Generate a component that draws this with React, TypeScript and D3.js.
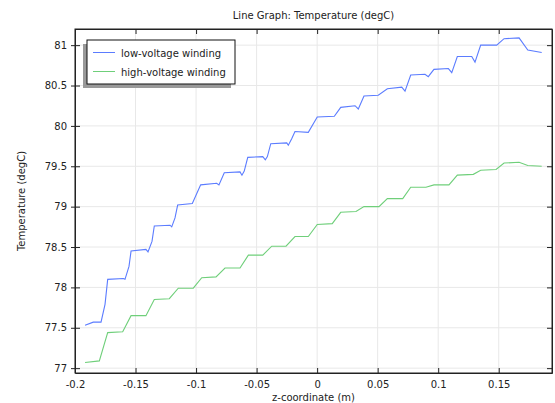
import { useEffect, useRef } from 'react'
import * as d3 from 'd3'

// low-voltage winding (z in m, T in degC)
const lowZ = [-0.1917, -0.1849, -0.1785, -0.1752, -0.173, -0.1601, -0.1587, -0.1554, -0.1537, -0.1414, -0.1397, -0.1364, -0.1345, -0.1215, -0.1201, -0.1174, -0.1152, -0.1031, -0.0962, -0.083, -0.0811, -0.0767, -0.0637, -0.0621, -0.0602, -0.0573, -0.0449, -0.0428, -0.0411, -0.0383, -0.0251, -0.0238, -0.021, -0.0183, -0.0073, 0.0001, 0.0142, 0.0195, 0.0313, 0.034, 0.0387, 0.0505, 0.058, 0.0699, 0.0726, 0.0773, 0.0891, 0.0918, 0.0965, 0.1084, 0.1112, 0.1158, 0.1277, 0.1304, 0.1351, 0.1483, 0.1544, 0.1668, 0.174, 0.1855]
const lowT = [77.53, 77.57, 77.57, 77.79, 78.1, 78.11, 78.1, 78.26, 78.45, 78.47, 78.44, 78.57, 78.76, 78.77, 78.75, 78.86, 79.02, 79.04, 79.27, 79.29, 79.27, 79.42, 79.43, 79.39, 79.44, 79.61, 79.62, 79.58, 79.62, 79.78, 79.79, 79.76, 79.84, 79.93, 79.92, 80.11, 80.12, 80.23, 80.25, 80.21, 80.37, 80.38, 80.46, 80.48, 80.43, 80.63, 80.64, 80.61, 80.7, 80.71, 80.66, 80.86, 80.86, 80.79, 81.0, 81.0, 81.08, 81.09, 80.94, 80.91]

// high-voltage winding
const highZ = [-0.1917, -0.1799, -0.173, -0.1606, -0.1537, -0.1414, -0.1345, -0.1221, -0.1147, -0.1023, -0.0953, -0.0835, -0.0761, -0.0637, -0.0568, -0.0449, -0.0375, -0.0257, -0.0183, -0.0073, 0.0001, 0.0125, 0.0195, 0.0321, 0.0387, 0.0511, 0.058, 0.0707, 0.0773, 0.0899, 0.0965, 0.1089, 0.1158, 0.129, 0.1351, 0.1478, 0.1544, 0.1668, 0.174, 0.1855]
const highT = [77.07, 77.09, 77.44, 77.45, 77.65, 77.65, 77.85, 77.86, 77.99, 77.99, 78.12, 78.13, 78.24, 78.24, 78.4, 78.4, 78.51, 78.51, 78.63, 78.63, 78.78, 78.79, 78.93, 78.94, 79.0, 79.0, 79.1, 79.1, 79.24, 79.24, 79.27, 79.27, 79.39, 79.4, 79.45, 79.46, 79.54, 79.55, 79.51, 79.5]

const xTicks = [-0.2, -0.15, -0.1, -0.05, 0, 0.05, 0.1, 0.15]
const yTicks = [77, 77.5, 78, 78.5, 79, 79.5, 80, 80.5, 81]

const series = [
  { name: 'low-voltage winding', z: lowZ, t: lowT, color: '#5b7cff' },
  { name: 'high-voltage winding', z: highZ, t: highT, color: '#6fcf7a' },
]

export default function App() {
  const svgRef = useRef<SVGSVGElement | null>(null)

  useEffect(() => {
    if (!svgRef.current) return
    const svg = d3.select(svgRef.current)
    svg.selectAll('*').remove()

    const width = 555
    const height = 403
    const m = { left: 75, right: 3, top: 29, bottom: 30 }
    const font = 'DejaVu Sans, sans-serif'

    const x = d3.scaleLinear().domain([-0.2, 0.194]).range([m.left, width - m.right])
    const y = d3.scaleLinear().domain([76.94, 81.2]).range([height - m.bottom, m.top])

    const g = svg.append('g')

    // grid
    g.selectAll('.gx').data(xTicks).enter().append('line')
      .attr('x1', d => x(d)).attr('x2', d => x(d))
      .attr('y1', m.top).attr('y2', height - m.bottom)
      .attr('stroke', '#e8e8e8').attr('stroke-width', 1)
    g.selectAll('.gy').data(yTicks).enter().append('line')
      .attr('y1', d => y(d)).attr('y2', d => y(d))
      .attr('x1', m.left).attr('x2', width - m.right)
      .attr('stroke', '#e8e8e8').attr('stroke-width', 1)

    // lines
    const line = d3.line<[number, number]>().x(d => x(d[0])).y(d => y(d[1]))
    series.forEach(s => {
      g.append('path')
        .datum(s.z.map((z, i) => [z, s.t[i]] as [number, number]))
        .attr('d', line)
        .attr('fill', 'none')
        .attr('stroke', s.color)
        .attr('stroke-width', 1.1)
    })

    // axes with inward ticks
    const tk = 5
    const axB = g.append('g').attr('transform', `translate(0,${height - m.bottom})`)
      .call(d3.axisBottom(x).tickValues(xTicks).tickSizeInner(-tk).tickSizeOuter(0).tickPadding(8).tickFormat(d => String(d)))
    const axT = g.append('g').attr('transform', `translate(0,${m.top})`)
      .call(d3.axisTop(x).tickValues(xTicks).tickSizeInner(-tk).tickSizeOuter(0).tickFormat(() => ''))
    const axL = g.append('g').attr('transform', `translate(${m.left},0)`)
      .call(d3.axisLeft(y).tickValues(yTicks).tickSizeInner(-tk).tickSizeOuter(0).tickPadding(8).tickFormat(d => String(d)))
    const axR = g.append('g').attr('transform', `translate(${width - m.right},0)`)
      .call(d3.axisRight(y).tickValues(yTicks).tickSizeInner(-tk).tickSizeOuter(0).tickFormat(() => ''))
    ;[axB, axT, axL, axR].forEach(a => {
      a.select('.domain').attr('stroke', '#222')
      a.selectAll('line').attr('stroke', '#222')
      a.selectAll('text').attr('fill', '#222').style('font-family', font).style('font-size', '10px')
    })
    // left tick marks also poke outside in the reference
    axL.selectAll('.tick').append('line').attr('x1', 0).attr('x2', -4).attr('stroke', '#222')

    // frame
    g.append('rect')
      .attr('x', m.left).attr('y', m.top)
      .attr('width', width - m.right - m.left).attr('height', height - m.bottom - m.top)
      .attr('fill', 'none').attr('stroke', '#222').attr('stroke-width', 1)

    // titles
    svg.append('text').attr('x', (m.left + width - m.right) / 2).attr('y', 19)
      .attr('text-anchor', 'middle').style('font-family', font).style('font-size', '10px')
      .attr('fill', '#222').text('Line Graph: Temperature (degC)')
    svg.append('text').attr('x', (m.left + width - m.right) / 2).attr('y', 401)
      .attr('text-anchor', 'middle').style('font-family', font).style('font-size', '10px')
      .attr('fill', '#222').text('z-coordinate (m)')
    svg.append('text').attr('transform', `translate(25,${(m.top + height - m.bottom) / 2}) rotate(-90)`)
      .attr('text-anchor', 'middle').style('font-family', font).style('font-size', '10px')
      .attr('fill', '#222').text('Temperature (degC)')

    // legend
    const lg = svg.append('g')
    lg.append('rect').attr('x', 83).attr('y', 44).attr('width', 148).attr('height', 44).attr('fill', '#999')
    lg.append('rect').attr('x', 87).attr('y', 40).attr('width', 148).attr('height', 44)
      .attr('fill', 'white').attr('stroke', '#111').attr('stroke-width', 1)
    series.forEach((s, i) => {
      const yy = 52.5 + i * 19
      lg.append('line').attr('x1', 93).attr('x2', 115).attr('y1', yy).attr('y2', yy)
        .attr('stroke', s.color).attr('stroke-width', 1)
      lg.append('text').attr('x', 121).attr('y', yy + 4)
        .style('font-family', font).style('font-size', '10px').attr('fill', '#222').text(s.name)
    })
  }, [])

  return (
    <svg ref={svgRef} width={555} height={403}
      style={{ position: 'absolute', left: 0, top: 0, background: 'white' }} />
  )
}
